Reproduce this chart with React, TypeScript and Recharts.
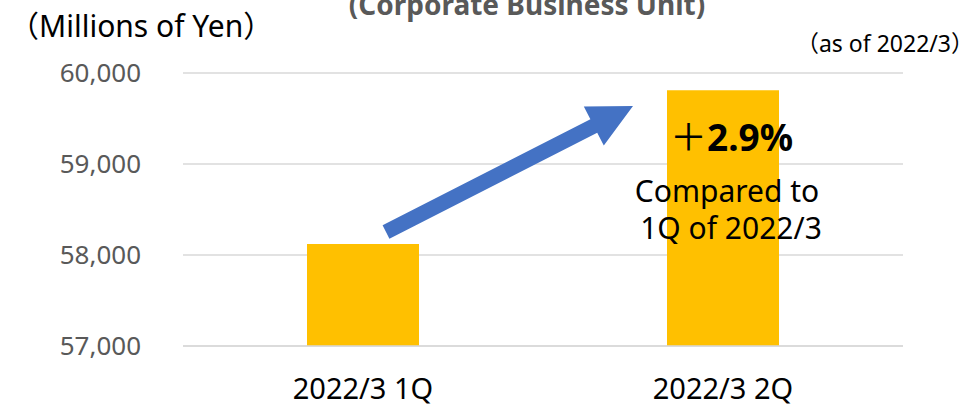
import { Bar, BarChart, CartesianGrid, XAxis, YAxis } from 'recharts';

const periods = ['2022/3 1Q', '2022/3 2Q'];
const sales = [58120, 59810];
const yTicks = [57000, 58000, 59000, 60000];

const data = periods.map((period, i) => ({ period, sales: sales[i] }));

const FONT = '"Noto Sans", "Noto Sans CJK JP", sans-serif';

// blue arrow between the two bars (annotation, not a data mark)
function arrowPoints(sx: number, sy: number, tx: number, ty: number, shaft: number, headLen: number, headHalf: number) {
  const len = Math.hypot(tx - sx, ty - sy);
  const ux = (tx - sx) / len;
  const uy = (ty - sy) / len;
  const nx = -uy;
  const ny = ux;
  const bx = tx - ux * headLen;
  const by = ty - uy * headLen;
  const h = shaft / 2;
  const pts = [
    [sx + nx * h, sy + ny * h],
    [bx + nx * h, by + ny * h],
    [bx + nx * headHalf, by + ny * headHalf],
    [tx, ty],
    [bx - nx * headHalf, by - ny * headHalf],
    [bx - nx * h, by - ny * h],
    [sx - nx * h, sy - ny * h],
  ];
  return pts.map((p) => p.join(',')).join(' ');
}

export default function App() {
  return (
    <div style={{ position: 'absolute', left: 0, top: 0, width: 975, height: 410, background: '#fff', fontFamily: FONT }}>
      <BarChart width={975} height={410} data={data} margin={{ top: 73, right: 72, left: 0, bottom: 0 }}>
        <CartesianGrid vertical={false} stroke='#d9d9d9' strokeWidth={1.5} />
        <XAxis
          dataKey='period'
          axisLine={{ stroke: '#d9d9d9', strokeWidth: 1.5 }}
          tickLine={false}
          height={64}
          tickMargin={26}
          tick={{ fill: '#000', fontSize: 29, fontFamily: FONT }}
        />
        <YAxis
          domain={[57000, 60000]}
          ticks={yTicks}
          width={183}
          axisLine={false}
          tickLine={false}
          tickMargin={36}
          interval={0}
          allowDataOverflow
          tickFormatter={(v: number) => v.toLocaleString('en-US')}
          tick={{ fill: '#595959', fontSize: 26, fontFamily: FONT }}
        />
        <Bar dataKey='sales' fill='#FFC000' barSize={112} isAnimationActive={false} />
      </BarChart>
      <svg width={975} height={410} style={{ position: 'absolute', left: 0, top: 0, pointerEvents: 'none' }}>
        <text x={527} y={15} textAnchor='middle' fontSize={28} fontWeight='bold' fill='#595959' fontFamily={FONT}>
          (Corporate Business Unit)
        </text>
        <text x={9} y={37} fontSize={30} fill='#000' fontFamily={FONT}>
          （Millions of Yen）
        </text>
        <text x={974} y={52} textAnchor='end' fontSize={23} fill='#000' fontFamily={FONT}>
          （as of 2022/3）
        </text>
        <polygon points={arrowPoints(386, 232, 633, 106, 15, 44, 22)} fill='#4472C4' />
        <text x={670} y={151} fontSize={37} fill='#000' fontFamily={FONT}>
          ＋<tspan fontWeight='bold'>2.9%</tspan>
        </text>
        <text x={727} y={202} textAnchor='middle' fontSize={30} fill='#000' fontFamily={FONT}>
          Compared to
        </text>
        <text x={731} y={239} textAnchor='middle' fontSize={30} fill='#000' fontFamily={FONT}>
          1Q of 2022/3
        </text>
      </svg>
    </div>
  );
}
